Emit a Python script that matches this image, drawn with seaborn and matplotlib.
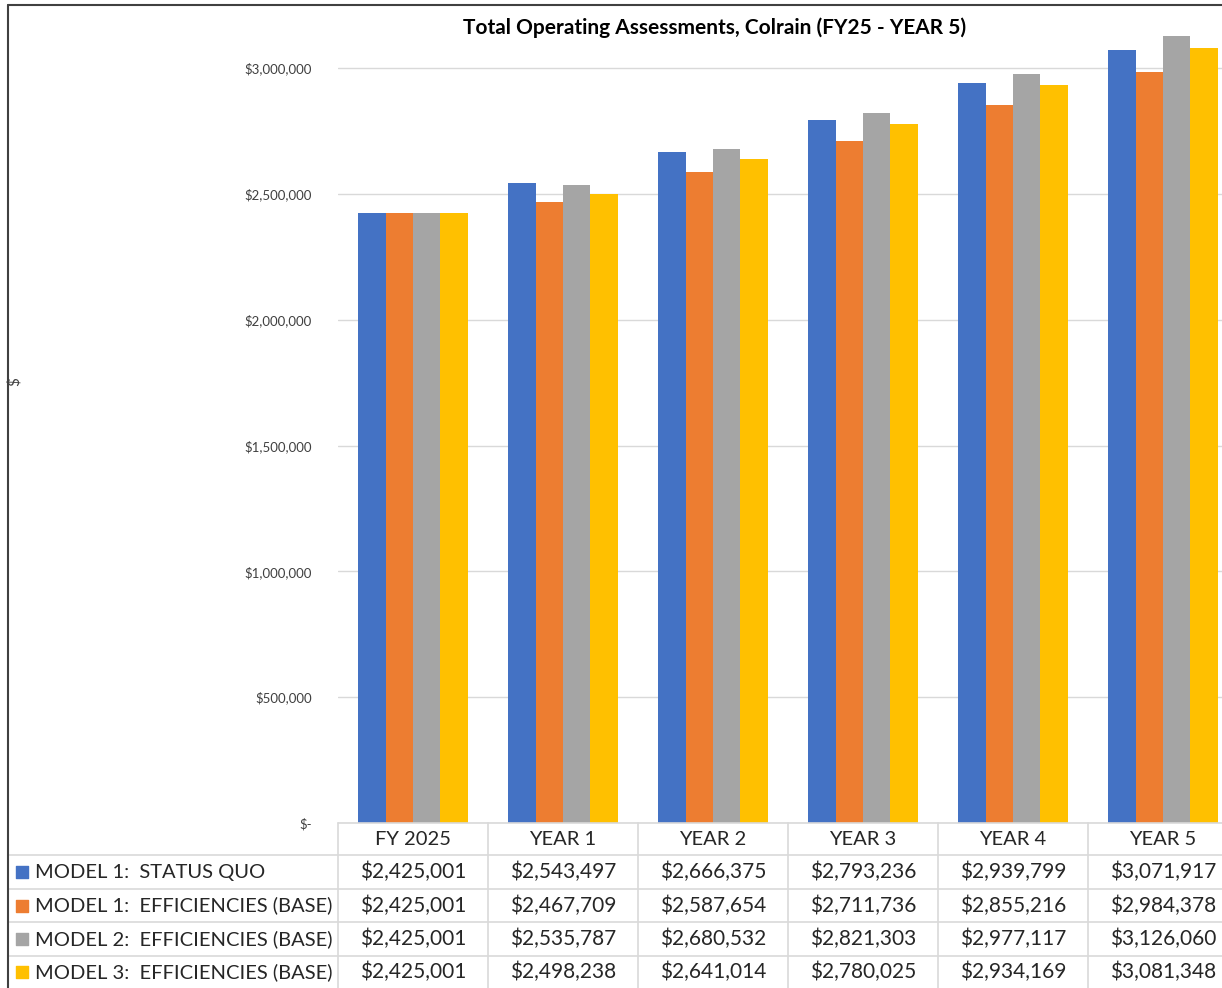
import matplotlib
matplotlib.use("Agg")
import matplotlib.pyplot as plt
from matplotlib.lines import Line2D
from matplotlib.ticker import FuncFormatter
import seaborn as sns
import pandas as pd
import numpy as np

# data
years = ["FY 2025", "YEAR 1", "YEAR 2", "YEAR 3", "YEAR 4", "YEAR 5"]
models = [
    "MODEL 1:  STATUS QUO",
    "MODEL 1:  EFFICIENCIES (BASE)",
    "MODEL 2:  EFFICIENCIES (BASE)",
    "MODEL 3:  EFFICIENCIES (BASE)",
]
m1_status_quo = [2425001, 2543497, 2666375, 2793236, 2939799, 3071917]
m1_efficiencies = [2425001, 2467709, 2587654, 2711736, 2855216, 2984378]
m2_efficiencies = [2425001, 2535787, 2680532, 2821303, 2977117, 3126060]
m3_efficiencies = [2425001, 2498238, 2641014, 2780025, 2934169, 3081348]
colors = ["#4472C4", "#ED7D31", "#A5A5A5", "#FFC000"]

all_values = [m1_status_quo, m1_efficiencies, m2_efficiencies, m3_efficiencies]
df = pd.DataFrame({
    "year": years * len(models),
    "model": np.repeat(models, len(years)),
    "value": np.concatenate(all_values),
})

sns.set_style("white")
plt.rcParams["font.family"] = ["Lato", "DejaVu Sans"]

W, H = 1222, 988
fig = plt.figure(figsize=(W / 100, H / 100), dpi=100)

# main chart axes (right edge runs past the image like the cropped original)
px_left, px_right, px_bottom = 338, 1238, 823
ymax = 3_200_000
px_per_unit = 125.8 / 500_000
ax_h = ymax * px_per_unit
ax = fig.add_axes([px_left / W, (H - px_bottom) / H, (px_right - px_left) / W, ax_h / H])

sns.barplot(data=df, x="year", y="value", hue="model", palette=colors,
            width=0.73, saturation=1, ax=ax, legend=False, linewidth=0)
ax.set_xlim(-0.5, 5.5)
ax.set_ylim(0, ymax)
ax.set_yticks(np.arange(0, 3_000_001, 500_000))
ax.yaxis.set_major_formatter(FuncFormatter(lambda v, p: "$-" if v == 0 else f"${v:,.0f}"))
ax.tick_params(axis="y", length=0, pad=19, labelsize=9.5, labelcolor="#404040")
ax.set_xticks([])
ax.set_xlabel("")
ax.set_ylabel("")
ax.grid(axis="y", color="#D9D9D9", linewidth=1)
ax.set_axisbelow(True)
for s in ax.spines.values():
    s.set_visible(False)

fig.text(715 / W, 1 - 28 / H, "Total Operating Assessments, Colrain (FY25 - YEAR 5)",
         ha="center", va="center", fontsize=15, fontweight="bold", color="#000000")
fig.text(14 / W, 1 - 382 / H, "$", rotation=90, ha="center", va="center",
         fontsize=11, color="#404040")

# data table underneath
tab_left = 8
x0 = -0.5 - (px_left - tab_left) / 150
tax = fig.add_axes([tab_left / W, 0, (px_right - tab_left) / W, (H - px_bottom) / H])
tax.set_xlim(x0, 5.5)
tax.set_ylim(0, H - px_bottom)
tax.axis("off")

grid_c = "#D9D9D9"
bounds = [165, 133, 99, 66, 32, 0]
tax.plot([-0.5, 5.5], [165, 165], color=grid_c, lw=1.2, clip_on=False)
for b in bounds[1:-1]:
    tax.plot([x0, 5.5], [b, b], color=grid_c, lw=1.2, clip_on=False)
for i in range(len(years) + 1):
    tax.plot([i - 0.5, i - 0.5], [0, 165], color=grid_c, lw=1.2, clip_on=False)

fs = 14.5
for i, y in enumerate(years):
    tax.text(i, (bounds[0] + bounds[1]) / 2, y, ha="center", va="center", fontsize=fs)

for r, (name, vals, c) in enumerate(zip(models, all_values, colors)):
    yc = (bounds[r + 1] + bounds[r + 2]) / 2
    tax.scatter([x0 + 14 / 150], [yc], marker="s", s=70, color=c, clip_on=False)
    tax.text(x0 + 27 / 150, yc, name, ha="left", va="center", fontsize=fs)
    for i, v in enumerate(vals):
        tax.text(i, yc, f"${v:,}", ha="center", va="center", fontsize=15)

# outer chart border
fig.add_artist(Line2D([8 / W, 8 / W], [0, 1 - 5 / H], transform=fig.transFigure,
                      color="#404040", lw=1.5))
fig.add_artist(Line2D([8 / W, 1], [1 - 5 / H, 1 - 5 / H], transform=fig.transFigure,
                      color="#404040", lw=1.5))

fig.savefig("out.png", dpi=100)
